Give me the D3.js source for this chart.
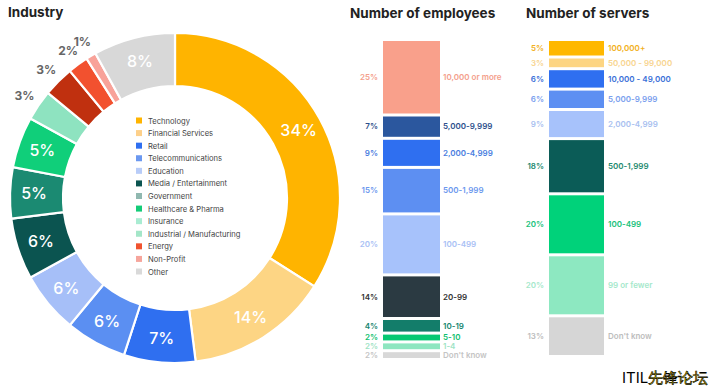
<!DOCTYPE html>
<html><head><meta charset="utf-8">
<script src="https://cdn.jsdelivr.net/npm/d3@7"></script>
<style>body{margin:0;background:#fff;} text{font-family:Inter,"Noto Sans",sans-serif;}</style>
</head><body><svg id="c" width="710" height="388"></svg>
<script>
// ---- Industry donut ----
const industries = ["Technology","Financial Services","Retail","Telecommunications","Education","Media / Entertainment","Government","Healthcare & Pharma","Insurance","Industrial / Manufacturing","Energy","Non-Profit","Other"];
const industryValues = [34,14,7,6,6,6,5,5,3,3,2,1,8];
const industryColors = ["#ffb400","#fdd584","#2f6ff0","#5b8ff2","#a6bff8","#0b5450","#1b8a72","#10cf7a","#8ee3c0","#c0300f","#f2512f","#f8a299","#d8d8d8"];
const legendColors = ["#ffb400","#fdd08a","#2f6ff0","#6b98f0","#b8ccf8","#0b5450","#90b8b0","#14cc78","#a9ecd2","#a4e6c8","#f0532f","#f6a59c","#d9d9d9"];
const industryOutside = [false,false,false,false,false,false,false,false,true,true,true,true,false];

// ---- Employees ----
const employeeCats = ["10,000 or more","5,000-9,999","2,000-4,999","500-1,999","100-499","20-99","10-19","5-10","1-4","Don't know"];
const employeeValues = [25,7,9,15,20,14,4,2,2,2];
const employeeColors = ["#f9a08b","#2b579e","#2f6ff0","#5d8ff2","#a7c2fb","#2b3a42","#137d6a","#05c872","#8ee6c0","#d8d8d8"];
const employeeTextColors = ["#f4a08c","#2d4f8c","#4a7de0","#6b98ee","#a9c1f5","#333333","#15866f","#0fbf6f","#9ee3c4","#c4c4c4"];

// ---- Servers ----
const serverCats = ["100,000+","50,000 - 99,000","10,000 - 49,000","5,000-9,999","2,000-4,999","500-1,999","100-499","99 or fewer","Don't know"];
const serverValues = [5,3,6,6,9,18,20,20,13];
const serverColors = ["#ffb800","#fdd582","#2f6ff0","#5d8ff2","#a7c2fb","#0b5c57","#00d27a","#8de8c1","#d6d6d6"];
const serverTextColors = ["#f2b020","#f8d590","#3a6fd8","#7aa0ee","#a9bff0","#1e8a6f","#17c27a","#a5e8cb","#bdbdbd"];

const svg = d3.select("#c");

// Titles
svg.append("text").attr("x",8).attr("y",17).attr("font-size",13.5).attr("font-weight",700).attr("fill","#222").text("Industry");
svg.append("text").attr("x",350).attr("y",18).attr("font-size",13.5).attr("font-weight",700).attr("fill","#222").text("Number of employees");
svg.append("text").attr("x",526).attr("y",18).attr("font-size",13.5).attr("font-weight",700).attr("fill","#222").text("Number of servers");

// Donut
const cx = 175, cy = 198, rOut = 165, rIn = 112;
const pie = d3.pie().sort(null).value(d=>d.v);
const data = industries.map((n,i)=>({n, v:industryValues[i], c:industryColors[i], out:industryOutside[i]}));
const arcs = pie(data);
const arc = d3.arc().innerRadius(rIn).outerRadius(rOut);
const labelArc = d3.arc().innerRadius(141).outerRadius(141);
const outArc = d3.arc().innerRadius(182).outerRadius(182);
const g = svg.append("g").attr("transform",`translate(${cx},${cy})`);
g.selectAll("path").data(arcs).join("path").attr("d",arc).attr("fill",d=>d.data.c).attr("stroke","#fff").attr("stroke-width",2.2);
g.selectAll("text.in").data(arcs.filter(d=>!d.data.out)).join("text")
  .attr("transform",d=>`translate(${labelArc.centroid(d)})`)
  .attr("text-anchor","middle").attr("dy","0.36em").attr("font-size",16).attr("font-weight",500).attr("fill","#fff")
  .text(d=>d.data.v+"%");
g.selectAll("text.out").data(arcs.filter(d=>d.data.out)).join("text")
  .attr("transform",d=>`translate(${outArc.centroid(d)})`)
  .attr("text-anchor","middle").attr("dy","0.36em").attr("font-size",12).attr("font-weight",700).attr("fill","#666")
  .text(d=>d.data.v+"%");

// Legend
const leg = svg.append("g");
const ly = d3.scalePoint().domain(industries).range([121,272]);
industries.forEach((n,i)=>{
  leg.append("rect").attr("x",136).attr("y",ly(n)-3.5).attr("width",6).attr("height",6).attr("fill",legendColors[i]);
  leg.append("text").attr("x",148).attr("y",ly(n)).attr("dy","0.33em").attr("font-size",7.6).attr("fill","#444").text(n);
});

// Stacked bars
const barTop = 41, gap = 3;
const h = d3.scaleLinear().domain([0,100]).range([0,290]);
function stack(cats, vals, colors, tcolors, x0, w, pctX, labX){
  let y = barTop;
  const grp = svg.append("g");
  cats.forEach((c,i)=>{
    const hh = h(vals[i]);
    grp.append("rect").attr("x",x0).attr("y",y).attr("width",w).attr("height",hh).attr("fill",colors[i]);
    const my = y + hh/2;
    grp.append("text").attr("x",pctX).attr("y",my).attr("dy","0.35em").attr("text-anchor","end")
      .attr("font-size",8).attr("font-weight",600).attr("fill",tcolors[i]).text(vals[i]+"%");
    grp.append("text").attr("x",labX).attr("y",my).attr("dy","0.35em")
      .attr("font-size",8).attr("font-weight",600).attr("fill",tcolors[i]).text(c);
    y += hh + gap;
  });
}
stack(employeeCats, employeeValues, employeeColors, employeeTextColors, 383, 57, 378, 443);
stack(serverCats, serverValues, serverColors, serverTextColors, 549, 55, 544, 608);

// Watermark
const wm = svg.append("text").attr("x",622).attr("y",383).attr("font-size",15).attr("font-family","'Noto Sans CJK SC',sans-serif");
wm.append("tspan").attr("fill","#000").text("ITIL");
wm.append("tspan").attr("fill","#ffe800").attr("stroke","#000").attr("stroke-width",0.6).text("先锋论坛");
</script></body></html>
